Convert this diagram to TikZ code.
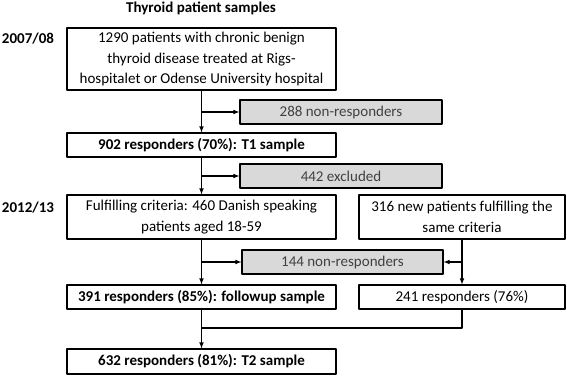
\documentclass[tikz,border=0pt]{standalone}
\usepackage{fontspec}
\setmainfont{Carlito}
\usetikzlibrary{calc}

\begin{document}
\begin{tikzpicture}[x=1pt,y=-1pt,line join=round,
	box/.style={draw,line width=1.1pt,inner sep=0pt,align=center,
		font=\fontsize{15}{20.5}\selectfont},
	greybox/.style={box,fill=gray!30,text=black!75},
	bbox/.style={box,font=\fontsize{15}{20.5}\selectfont\bfseries},
	lbl/.style={inner sep=0pt,font=\fontsize{15}{16}\selectfont\bfseries},
	arr/.style={-latex,line width=1.1pt}]
	\useasboundingbox (0,0) rectangle (567,375);
	% Labels
	\node[lbl] (title) at (201,8)  {Thyroid patient samples};
	\node[lbl] (y1)    at (28,39)  {2007/08};
	\node[lbl] (y2)    at (28,208) {2012/13};
	
	% First wave
	\node[box,minimum width=269,minimum height=62] (pool) at (201.5,59)
		{1290 patients with chronic benign\\thyroid disease treated at Rigs-\\hospitalet or Odense University hospital};
	\node[greybox,minimum width=202,minimum height=24] (nonA) at (341,112) {288 non-responders};
	\node[bbox,minimum width=269,minimum height=24] (tone) at (201.5,145) {902 responders (70\%): T1 sample};
	\node[greybox,minimum width=202,minimum height=24] (excl) at (341,176) {442 excluded};
	
	% Second wave
	\node[box,minimum width=269,minimum height=44] (crit) at (201.5,217)
		{Fulfilling criteria: 460 Danish speaking\\patients aged 18-59};
	\node[box,minimum width=206,minimum height=44] (newp) at (462,217)
		{316 new patients fulfilling the\\same criteria};
	\node[greybox,minimum width=201,minimum height=24] (nonB) at (342.5,262) {144 non-responders};
	\node[bbox,minimum width=269,minimum height=24] (fup) at (201.5,297) {391 responders (85\%): followup sample};
	\node[box,minimum width=206,minimum height=24] (rnew) at (462,297) {241 responders (76\%)};
	\node[bbox,minimum width=269,minimum height=25] (ttwo) at (201.5,361.5) {632 responders (81\%): T2 sample};
	\coordinate (merge) at (201.5,328);
	
	% Arrows
	\draw[arr] (pool) -- (tone);
	\draw[arr] (pool.south |- nonA) -- (nonA);
	\draw[arr] (tone) -- (crit);
	\draw[arr] (tone.south |- excl) -- (excl);
	\draw[arr] (crit) -- (fup);
	\draw[arr] (crit.south |- nonB) -- (nonB);
	\draw[arr] (newp) -- (rnew);
	\draw[arr] (newp.south |- nonB) -- (nonB);
	\draw[line width=1.1pt] (rnew) |- (merge);
	\draw[arr] (fup) -- (ttwo);
\end{tikzpicture}
\end{document}
